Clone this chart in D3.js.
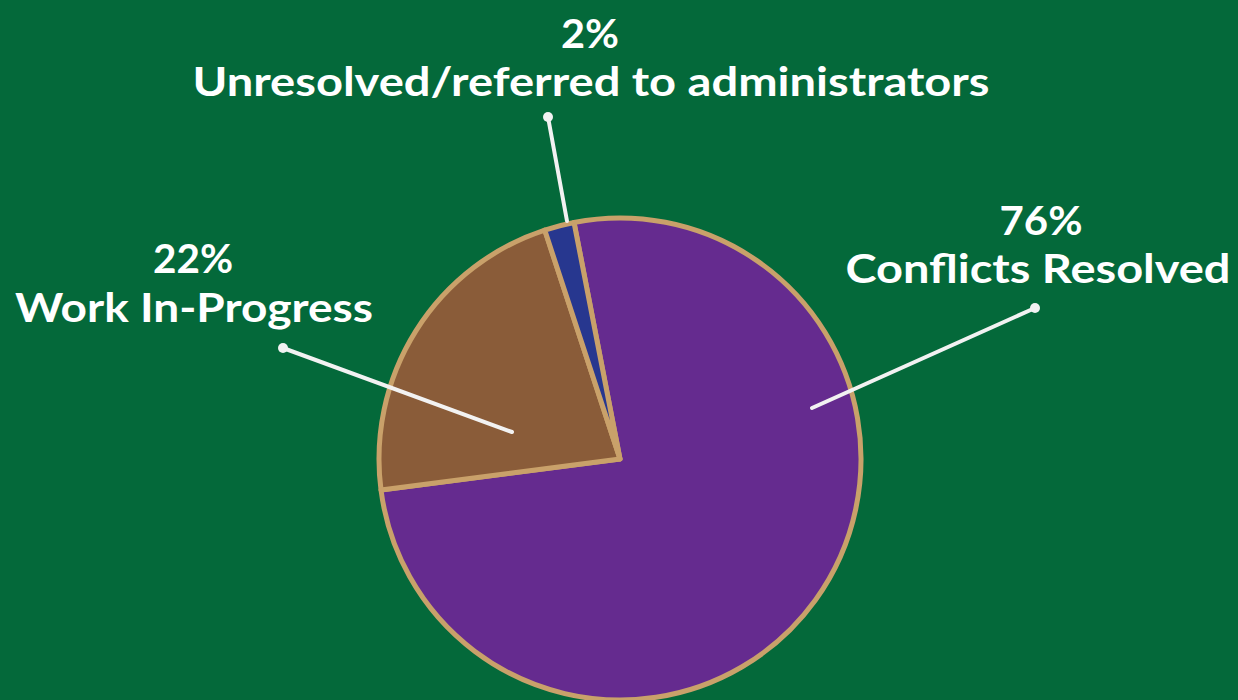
<!DOCTYPE html>
<html><head><meta charset="utf-8">
<script src="https://cdn.jsdelivr.net/npm/d3@7"></script>
<style>html,body{margin:0;padding:0;background:#04693a;overflow:hidden}</style>
</head><body><svg id="c" width="1238" height="700"></svg>
<script>
const categories = ["Conflicts Resolved", "Work In-Progress", "Unresolved/referred to administrators"];
const values = [76, 22, 2];
const percentLabels = ["76%", "22%", "2%"];
const colors = ["#652b8f", "#8a5c39", "#27378f"];

const W = 1238, H = 700;
const svg = d3.select("#c");
svg.append("rect").attr("width", W).attr("height", H).attr("fill", "#04693a");

const cx = 620, cy = 459, R = 241;
const start = -11 * Math.PI / 180;
const pie = d3.pie().sort(null).startAngle(start).endAngle(start + 2 * Math.PI);
const arcs = pie(values);
const arc = d3.arc().innerRadius(0).outerRadius(R);

const g = svg.append("g").attr("transform", `translate(${cx},${cy})`);
g.selectAll("path").data(arcs).join("path")
  .attr("d", arc)
  .attr("fill", (d, i) => colors[i])
  .attr("stroke", "#c9a16a")
  .attr("stroke-width", 5)
  .attr("stroke-linejoin", "round");

// label layout (annotation positions)
const layout = [
  { pct: [1041, 235], name: [1038, 283], pctW: 83, nameW: 385, dot: [1035, 308], end: [812, 408] },
  { pct: [193, 273], name: [194, 322], pctW: 80, nameW: 358, dot: [283, 348], end: [512, 432] },
  { pct: [590, 48], name: [591, 96], pctW: 58, nameW: 797, dot: [548, 117], end: [567, 221] }
];

const lab = svg.append("g").attr("fill", "#fff")
  .style("font-family", "Lato, 'Open Sans', sans-serif")
  .style("font-weight", 700);

arcs.forEach((d, i) => {
  const L = layout[i];
  svg.append("line")
    .attr("x1", L.dot[0]).attr("y1", L.dot[1])
    .attr("x2", L.end[0]).attr("y2", L.end[1])
    .attr("stroke", "#f2f2f2").attr("stroke-width", 4).attr("stroke-linecap", "round");
  svg.append("circle").attr("cx", L.dot[0]).attr("cy", L.dot[1]).attr("r", 5).attr("fill", "#f2f2f2");
  lab.append("text").attr("x", L.pct[0]).attr("y", L.pct[1])
    .attr("text-anchor", "middle").style("font-size", "40px")
    .attr("textLength", L.pctW).attr("lengthAdjust", "spacingAndGlyphs")
    .text(percentLabels[i]);
  lab.append("text").attr("x", L.name[0]).attr("y", L.name[1])
    .attr("text-anchor", "middle").style("font-size", "40px")
    .attr("textLength", L.nameW).attr("lengthAdjust", "spacingAndGlyphs")
    .text(categories[i]);
});
</script></body></html>
